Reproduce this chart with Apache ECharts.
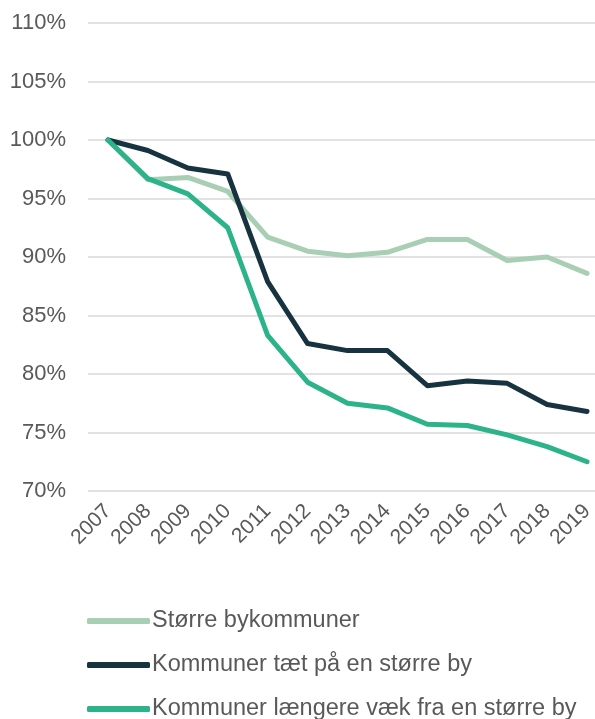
<!DOCTYPE html>
<html>
<head>
<meta charset="utf-8">
<script src="https://cdn.jsdelivr.net/npm/echarts@6/dist/echarts.min.js"></script>
<style>
  html, body { margin: 0; padding: 0; background: #fff; }
  #chart { width: 595px; height: 719px; }
</style>
</head>
<body>
<div id="chart"></div>
<script>
// år
var years = ['2007', '2008', '2009', '2010', '2011', '2012', '2013', '2014', '2015', '2016', '2017', '2018', '2019'];

// indeks i procent af 2007
var stoerreBy = [100, 96.6, 96.8, 95.6, 91.7, 90.5, 90.1, 90.4, 91.5, 91.5, 89.7, 90.0, 88.6];
var taetPaa = [100, 99.1, 97.6, 97.1, 87.9, 82.6, 82.0, 82.0, 79.0, 79.4, 79.2, 77.4, 76.8];
var laengereVaek = [100, 96.7, 95.4, 92.5, 83.3, 79.3, 77.5, 77.1, 75.7, 75.6, 74.8, 73.8, 72.5];

var seriesNames = ['Større bykommuner', 'Kommuner tæt på en større by', 'Kommuner længere væk fra en større by'];
var colors = ['#a8cfb4', '#17333f', '#2db38a'];

var myChart = echarts.init(document.getElementById('chart'), null, {renderer: 'canvas'});

function lineSeries(name, data, color) {
    return {
        name: name,
        type: 'line',
        data: data,
        showSymbol: false,
        symbol: 'none',
        smooth: false,
        lineStyle: {color: color, width: 5, cap: 'round', join: 'round'},
        itemStyle: {color: color}
    };
}

var option = {
    animation: false,
    textStyle: {fontFamily: 'Liberation Sans, Arial, sans-serif'},
    grid: {
        left: 88,
        top: 23,
        width: 519,
        height: 468,
        containLabel: false,
        outerBoundsMode: 'none'
    },
    legend: {
        orient: 'vertical',
        left: 82,
        top: 604,
        height: 150,
        itemGap: 20,
        itemWidth: 63,
        itemHeight: 6,
        icon: 'roundRect',
        textStyle: {fontSize: 23.5, color: '#595959', padding: [0, 0, 0, -3]},
        data: seriesNames
    },
    xAxis: {
        type: 'category',
        data: years,
        boundaryGap: true,
        axisLine: {show: false},
        axisTick: {show: false},
        axisLabel: {
            rotate: 45,
            fontSize: 21,
            color: '#595959',
            margin: 17,
            interval: 0
        }
    },
    yAxis: {
        type: 'value',
        min: 70,
        max: 110,
        interval: 5,
        axisLine: {show: false},
        axisTick: {show: false},
        axisLabel: {
            formatter: '{value}%',
            fontSize: 22,
            color: '#595959',
            margin: 22
        },
        splitLine: {lineStyle: {color: '#d9d9d9', width: 1.5}}
    },
    series: [
        lineSeries(seriesNames[0], stoerreBy, colors[0]),
        lineSeries(seriesNames[1], taetPaa, colors[1]),
        lineSeries(seriesNames[2], laengereVaek, colors[2])
    ]
};

myChart.setOption(option);
</script>
</body>
</html>
